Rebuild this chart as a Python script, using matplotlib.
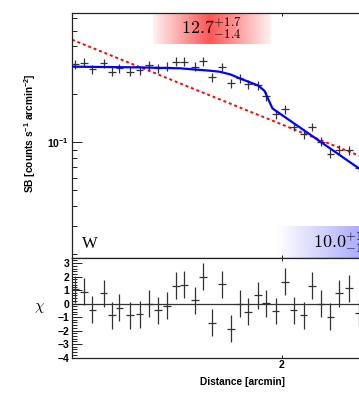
import matplotlib
matplotlib.use('Agg')
import matplotlib.pyplot as plt
import numpy as np
from matplotlib.ticker import MultipleLocator, NullLocator, NullFormatter, FixedLocator, FixedFormatter

plt.rcParams['font.family'] = ['Liberation Sans', 'DejaVu Sans']
plt.rcParams['font.weight'] = 'bold'
plt.rcParams['mathtext.fontset'] = 'custom'
plt.rcParams['mathtext.rm'] = 'Liberation Sans:bold'
plt.rcParams['mathtext.it'] = 'Liberation Sans:bold:italic'
plt.rcParams['mathtext.bf'] = 'Liberation Sans:bold'

#~~~~~~~~~~~~~~~~~~
# Data
#~~~~~~~~~~~~~~~~~~
dist = [1.01, 1.04, 1.07, 1.11, 1.14, 1.17, 1.21, 1.25, 1.29, 1.33, 1.37, 1.41, 1.45, 1.50, 1.54, 1.59,
        1.64, 1.69, 1.74, 1.79, 1.85, 1.90, 1.96, 2.02, 2.08, 2.15, 2.21, 2.28, 2.35, 2.42, 2.50, 2.58]
sb = [0.310, 0.316, 0.287, 0.313, 0.277, 0.291, 0.277, 0.284, 0.305, 0.291, 0.298, 0.320, 0.320, 0.298, 0.323, 0.256,
      0.298, 0.234, 0.252, 0.232, 0.229, 0.195, 0.150, 0.161, 0.125, 0.113, 0.125, 0.101, 0.085, 0.090, 0.089, 0.069]
sb_err = [0.020, 0.021, 0.019, 0.020, 0.018, 0.019, 0.018, 0.018, 0.020, 0.019, 0.019, 0.021, 0.021, 0.019, 0.021, 0.017,
          0.018, 0.016, 0.016, 0.015, 0.015, 0.013, 0.010, 0.011, 0.008, 0.0075, 0.008, 0.0066, 0.0056, 0.0059, 0.0058, 0.0046]
chi = [1.05, 0.87, -0.47, 0.75, -0.87, -0.32, -0.87, -0.80, 0.0, -0.50, -0.17, 1.32, 1.40, 0.25, 2.0, -1.42,
       1.45, -1.85, 0.0, -0.60, 0.62, 0.02, -0.55, 1.62, -0.50, -0.85, 1.32, 0.0, -0.97, 0.77, 1.15, -0.67]

# best fit model (blue) and power law (red dotted)
model_x = [1.00, 1.25, 1.43, 1.58, 1.63, 1.69, 1.74, 1.85, 1.89, 1.91, 1.94, 2.58, 2.77]
model_y = [0.298, 0.295, 0.291, 0.281, 0.277, 0.266, 0.252, 0.227, 0.210, 0.189, 0.163, 0.0687, 0.0557]
plaw_x = [1.0, 2.8]
plaw_y = [0.44, 0.0715]

jump_in = r'$12.7^{+1.7}_{-1.4}$'
jump_out = r'$10.0^{+1.2}_{-1.1}$'

W, H = 359, 397
fig = plt.figure(figsize=(W/100., H/100.), dpi=100)

# axes run off the right edge of the picture (cropped plot)
ax = fig.add_axes([72./W, (H-258.)/H, 368./W, 245./H])
ax2 = fig.add_axes([72./W, (H-357.5)/H, 368./W, 99.5/H])

xmin, xmax = 1.0, 3.375
xerr = [d*0.013 for d in dist]
ink = '#333333'


def grad_box(a, x0, x1, y0, y1, rgb, peak, lo, hi):
    # horizontal gradient box in axes coords
    t = np.linspace(0, 1, 300)
    alpha = np.where(t < peak, lo + (1-lo)*t/peak, 1 - (1-hi)*(t-peak)/(1-peak))
    img = np.zeros((1, 300, 4))
    img[..., 0] = rgb[0]
    img[..., 1] = rgb[1]
    img[..., 2] = rgb[2]
    img[0, :, 3] = alpha
    a.imshow(img, extent=[x0, x1, y0, y1], transform=a.transAxes, aspect='auto',
             interpolation='bilinear', zorder=0)


# upper panel
grad_box(ax, 0.220, 0.538, 0.873, 1.0, (1.0, 0.33, 0.33), 0.48, 0.08, 0.08)
grad_box(ax, 0.557, 1.0, 0.0, 0.128, (0.45, 0.45, 1.0), 0.85, 0.0, 0.5)

ax.errorbar(dist, sb, yerr=sb_err, xerr=xerr, fmt='none', ecolor=ink, elinewidth=0.9, capsize=0, zorder=3)
ax.plot(plaw_x, plaw_y, color='red', lw=1.4, ls=(0, (1.5, 1.5)), zorder=2)
ax.plot(model_x, model_y, color='blue', lw=1.6, zorder=4)

ax.set_xscale('log')
ax.set_yscale('log')
ax.set_xlim(xmin, xmax)
ax.set_ylim(0.0188, 0.647)

ax.text(0.378, 0.939, jump_in, transform=ax.transAxes, ha='center', va='center',
        fontsize=13, math_fontfamily='cm', zorder=5)
ax.text(0.655, 0.065, jump_out, transform=ax.transAxes, ha='left', va='center',
        fontsize=13, math_fontfamily='cm', zorder=5)
ax.text(0.026, 0.04, 'W', transform=ax.transAxes, family='Liberation Serif', fontweight='normal',
        fontsize=12, va='baseline', ha='left')

ax.xaxis.set_major_locator(FixedLocator([2]))
ax.xaxis.set_minor_locator(NullLocator())
ax.xaxis.set_major_formatter(NullFormatter())
ax.yaxis.set_major_locator(FixedLocator([0.1]))
ax.yaxis.set_major_formatter(FixedFormatter([r'10$^{-1}$']))
ax.yaxis.set_minor_formatter(NullFormatter())

# lower panel
ax2.axhline(0, color=ink, lw=0.9, zorder=1)
ax2.errorbar(dist, chi, yerr=1.0, xerr=xerr, fmt='none', ecolor=ink, elinewidth=0.9, capsize=0, zorder=3)
ax2.set_xscale('log')
ax2.set_xlim(xmin, xmax)
ax2.set_ylim(-4, 3.38)
ax2.xaxis.set_major_locator(FixedLocator([2]))
ax2.xaxis.set_minor_locator(NullLocator())
ax2.xaxis.set_major_formatter(FixedFormatter(['2']))
ax2.yaxis.set_major_locator(MultipleLocator(1))
ax2.yaxis.set_minor_locator(MultipleLocator(0.2))

for a in [ax, ax2]:
    for s in a.spines.values():
        s.set_linewidth(0.9)
        s.set_color('#222222')
    a.tick_params(which='both', direction='in', top=True, right=True, color='#222222',
                  labelsize=7.5, width=0.7, pad=2)
    a.tick_params(axis='y', which='major', length=7.5)
    a.tick_params(axis='y', which='minor', length=3.6)
    a.tick_params(axis='x', which='major', length=2.5)

fig.text(30./W, (H-133.)/H, r'SB [counts s$^{-1}$ arcmin$^{-2}$]', rotation=90,
         ha='center', va='center', fontsize=7.3)
fig.text(40./W, (H-308.)/H, r'$\chi$', math_fontfamily='cm', ha='center', va='center', fontsize=11)
fig.text(243./W, (H-381.7)/H, 'Distance [arcmin]', ha='center', va='center', fontsize=7.3)

fig.savefig('out.png', dpi=100)
